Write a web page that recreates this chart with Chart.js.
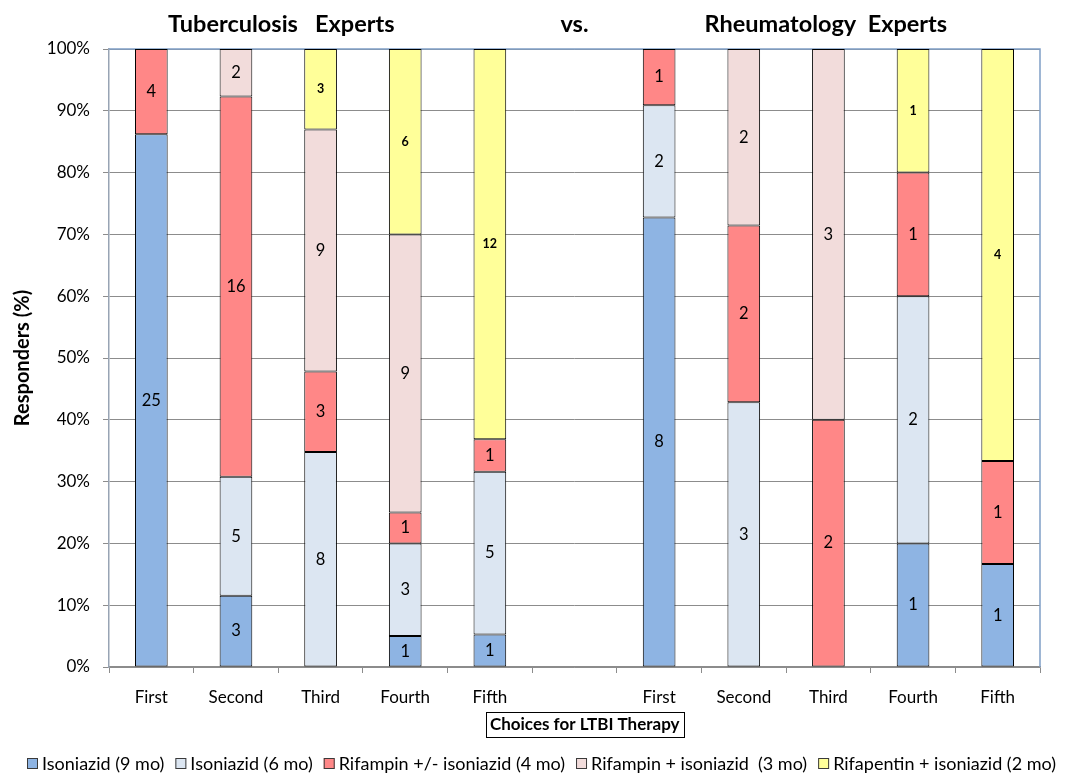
<!DOCTYPE html>
<html>
<head>
<meta charset="utf-8">
<script src="https://cdn.jsdelivr.net/npm/chart.js@4/dist/chart.umd.min.js"></script>
<style>
  html, body { margin: 0; padding: 0; background: #ffffff; }
  #wrap { width: 1072px; height: 776px; position: relative; }
</style>
</head>
<body>
<div id="wrap"><canvas id="chart" width="1072" height="776"></canvas></div>
<script>
// Ranked choices; the empty slot separates the two expert groups
const categories = ['First', 'Second', 'Third', 'Fourth', 'Fifth', '', 'First', 'Second', 'Third', 'Fourth', 'Fifth'];

const seriesNames = [
  'Isoniazid (9 mo)',
  'Isoniazid (6 mo)',
  'Rifampin +/- isoniazid (4 mo)',
  'Rifampin + isoniazid  (3 mo)',
  'Rifapentin + isoniazid (2 mo)'
];

// Number of responders choosing each regimen at each rank
const isoniazid9 =   [25, 3, 0, 1, 1, 0, 8, 0, 0, 1, 1];
const isoniazid6 =   [0, 5, 8, 3, 5, 0, 2, 3, 0, 2, 0];
const rifampin4 =    [4, 16, 3, 1, 1, 0, 1, 2, 2, 1, 1];
const rifampinIso3 = [0, 2, 9, 9, 0, 0, 0, 2, 3, 0, 0];
const rifapentin2 =  [0, 0, 3, 6, 12, 0, 0, 0, 0, 1, 4];

const yTicks = [0, 10, 20, 30, 40, 50, 60, 70, 80, 90, 100];

const groupTitles = ['Tuberculosis   Experts', 'vs.', 'Rheumatology  Experts'];
const xTitle = 'Choices for LTBI Therapy';
const yTitle = 'Responders (%)';

const counts = [isoniazid9, isoniazid6, rifampin4, rifampinIso3, rifapentin2];
const colors = ['#8EB4E3', '#DCE6F2', '#FF8787', '#F2DCDB', '#FFFF99'];

const totals = categories.map((_, i) => counts.reduce((s, arr) => s + arr[i], 0));
const toPercent = arr => arr.map((v, i) => (v > 0 && totals[i] > 0) ? v / totals[i] * 100 : null);

const FONT = 'Lato, "Open Sans", sans-serif';

const datasets = counts.map((arr, k) => ({
  label: seriesNames[k],
  data: toPercent(arr),
  counts: arr,
  backgroundColor: colors[k],
  borderColor: '#000000',
  borderWidth: 1,
  borderSkipped: false,
  barPercentage: 0.386,
  categoryPercentage: 1.0
}));

// Frame of the plot area: blue top and right edges
const frame = {
  id: 'frame',
  beforeDatasetsDraw(chart) {
    const { ctx, chartArea: a } = chart;
    ctx.save();
    ctx.strokeStyle = '#7F9EC6';
    ctx.lineWidth = 1.5;
    ctx.beginPath();
    ctx.moveTo(a.left, a.top);
    ctx.lineTo(a.right, a.top);
    ctx.lineTo(a.right, a.bottom);
    ctx.stroke();
    ctx.restore();
  }
};

// Count labels in the middle of every segment
const segmentLabels = {
  id: 'segmentLabels',
  afterDatasetsDraw(chart) {
    const { ctx } = chart;
    ctx.save();
    ctx.textAlign = 'center';
    ctx.textBaseline = 'middle';
    ctx.fillStyle = '#000000';
    chart.data.datasets.forEach((ds, k) => {
      const meta = chart.getDatasetMeta(k);
      ctx.font = k === 4 ? 'bold 12.5px ' + FONT : '16.5px ' + FONT;
      meta.data.forEach((bar, i) => {
        const n = ds.counts[i];
        if (!n) return;
        ctx.fillText(String(n), bar.x, (bar.y + bar.base) / 2);
      });
    });
    ctx.restore();
  }
};

// Group headings, boxed axis caption and a single-row legend
const headings = {
  id: 'headings',
  afterDraw(chart) {
    const { ctx, chartArea: a } = chart;
    ctx.save();
    ctx.fillStyle = '#000000';
    ctx.textBaseline = 'middle';
    ctx.textAlign = 'center';
    ctx.font = 'bold 23.5px ' + FONT;
    const w = a.right - a.left;
    ctx.fillText(groupTitles[0], a.left + w * 0.185, 24);
    ctx.fillText(groupTitles[1], a.left + w * 0.5, 24);
    ctx.fillText(groupTitles[2], a.left + w * 0.770, 24);

    ctx.font = 'bold 17px ' + FONT;
    const cx = a.left + w * 0.511;
    const cy = 725;
    const tw = ctx.measureText(xTitle).width;
    ctx.fillText(xTitle, cx, cy);
    ctx.strokeStyle = '#000000';
    ctx.lineWidth = 1;
    ctx.strokeRect(Math.round(cx - tw / 2 - 4) + 0.5, 712.5, Math.round(tw + 8), 25);

    // legend row
    ctx.font = '18px ' + FONT;
    ctx.textAlign = 'left';
    const box = 11, boxGap = 4, itemGap = 11;
    const items = chart.data.datasets.map(ds => ({
      ds, w: box + boxGap + ctx.measureText(ds.label).width
    }));
    const total = items.reduce((s, it) => s + it.w, 0) + itemGap * (items.length - 1);
    let x = Math.round(542 - total / 2);
    const ly = 764;
    items.forEach(it => {
      ctx.fillStyle = it.ds.backgroundColor;
      ctx.fillRect(x, ly - 6, box, box);
      ctx.strokeStyle = '#3A3A3A';
      ctx.strokeRect(x + 0.5, ly - 5.5, box - 1, box - 1);
      ctx.fillStyle = '#000000';
      ctx.fillText(it.ds.label, x + box + boxGap, ly);
      x += it.w + itemGap;
    });
    ctx.restore();
  }
};

new Chart(document.getElementById('chart'), {
  type: 'bar',
  data: { labels: categories, datasets },
  plugins: [frame, segmentLabels, headings],
  options: {
    responsive: false,
    animation: false,
    layout: { padding: { top: 49, right: 32, left: 8, bottom: 31 } },
    plugins: {
      legend: { display: false },
      tooltip: { enabled: false },
      title: { display: false }
    },
    scales: {
      x: {
        stacked: true,
        grid: {
          offset: true,
          drawOnChartArea: false,
          drawTicks: true,
          tickLength: 6,
          tickColor: '#8C8C8C'
        },
        border: { color: '#8C8C8C', width: 1.5 },
        ticks: {
          color: '#000000',
          font: { family: FONT, size: 17 },
          padding: 14,
          maxRotation: 0,
          autoSkip: false
        },
        afterFit(scale) { scale.height = 78; }
      },
      y: {
        stacked: true,
        min: 0,
        max: 100,
        afterBuildTicks(scale) { scale.ticks = yTicks.map(v => ({ value: v })); },
        grid: {
          color: '#8C8C8C',
          lineWidth: 1,
          drawTicks: true,
          tickLength: 6,
          tickColor: '#8C8C8C'
        },
        border: { color: '#98A4B4', width: 1.5 },
        ticks: {
          color: '#000000',
          font: { family: FONT, size: 17 },
          padding: 13,
          callback: v => v + '%'
        },
        title: {
          display: true,
          text: yTitle,
          color: '#000000',
          font: { family: FONT, size: 20, weight: 'bold' },
          padding: { top: 3, bottom: 4 }
        },
        afterFit(scale) { scale.width = 101; }
      }
    }
  }
});
</script>
</body>
</html>
